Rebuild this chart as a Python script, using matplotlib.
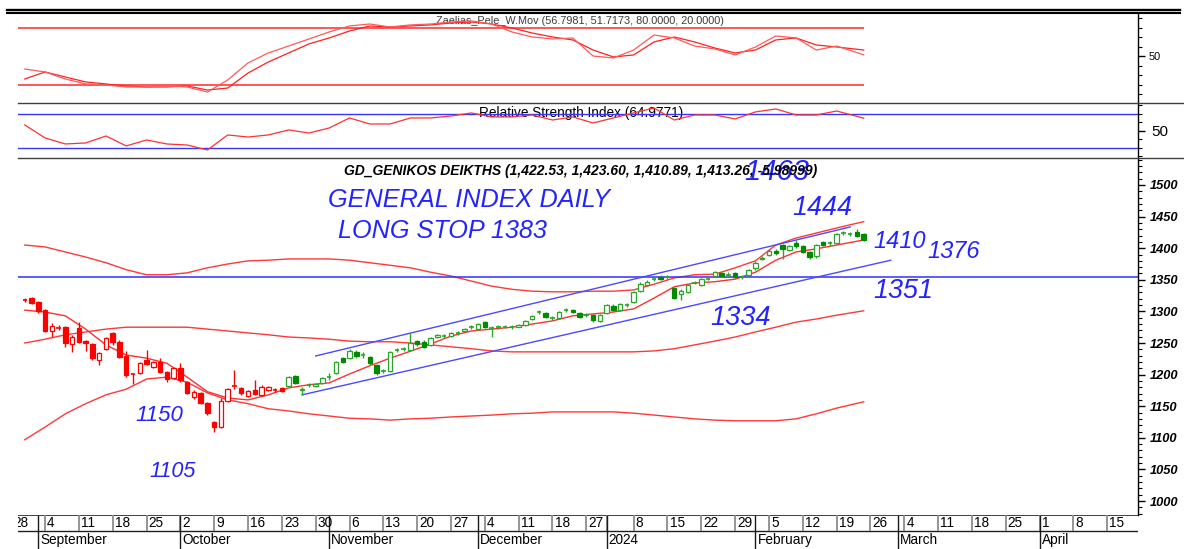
import matplotlib
matplotlib.use('Agg')
import matplotlib.pyplot as plt
from matplotlib.patches import Rectangle
from matplotlib.lines import Line2D
from matplotlib.ticker import FixedLocator, MultipleLocator
import numpy as np
import pandas as pd

plt.rcParams['font.family'] = ['Liberation Sans', 'DejaVu Sans']

# trading sessions (Athens); the empty future part keeps every weekday
holidays = pd.to_datetime(['2023-12-25', '2023-12-26', '2024-01-01'])
days = pd.bdate_range('2023-08-28', '2024-04-26')
days = days[~days.isin(holidays)]

first_day = '2023-08-30'
last_red = '2023-10-23'

opens = [1317, 1321, 1315, 1302, 1269, 1274, 1275, 1248, 1274, 1253,
         1248, 1223, 1241, 1266, 1252, 1229, 1200, 1203, 1223, 1212,
         1220, 1204, 1195, 1210, 1188, 1165, 1171, 1155, 1125, 1117,
         1158, 1182, 1179, 1166, 1176, 1168, 1175, 1176, 1179, 1182,
         1198, 1176, 1183, 1182, 1187, 1196, 1203, 1226, 1226, 1236,
         1231, 1228, 1215, 1205, 1206, 1239, 1240, 1239, 1253, 1252,
         1247, 1260, 1261, 1261, 1266, 1269, 1275, 1272, 1283, 1274,
         1275, 1276, 1275, 1276, 1279, 1288, 1299, 1297, 1290, 1290,
         1301, 1302, 1297, 1294, 1294, 1285, 1298, 1309, 1303, 1310,
         1315, 1333, 1342, 1350, 1355, 1354, 1337, 1328, 1331, 1345,
         1342, 1352, 1356, 1361, 1358, 1360, 1354, 1358, 1368, 1383,
         1389, 1396, 1405, 1397, 1409, 1403, 1394, 1387, 1410, 1407,
         1408, 1424, 1422, 1426, 1422.53]
highs = [1321, 1323, 1316, 1304, 1282, 1279, 1277, 1262, 1283, 1255,
         1250, 1236, 1260, 1268, 1254, 1237, 1203, 1220, 1239, 1222,
         1226, 1206, 1212, 1218, 1190, 1175, 1173, 1157, 1127, 1163,
         1179, 1207, 1181, 1176, 1192, 1184, 1182, 1179, 1181, 1198,
         1200, 1180, 1187, 1187, 1197, 1203, 1222, 1228, 1240, 1239,
         1235, 1230, 1217, 1209, 1238, 1242, 1244, 1266, 1255, 1254,
         1260, 1265, 1265, 1268, 1269, 1274, 1278, 1282, 1285, 1277,
         1279, 1279, 1278, 1280, 1287, 1295, 1303, 1299, 1293, 1301,
         1305, 1304, 1299, 1297, 1296, 1296, 1312, 1311, 1314, 1313,
         1333, 1346, 1349, 1354, 1357, 1357, 1339, 1335, 1344, 1348,
         1353, 1355, 1364, 1363, 1362, 1362, 1357, 1367, 1379, 1387,
         1398, 1398, 1407, 1405, 1413, 1405, 1396, 1407, 1412, 1411,
         1424, 1427, 1425, 1431, 1423.60]
lows = [1315, 1312, 1298, 1267, 1260, 1271, 1244, 1236, 1250, 1237,
        1223, 1215, 1239, 1247, 1226, 1196, 1185, 1201, 1215, 1210,
        1202, 1188, 1193, 1189, 1169, 1162, 1153, 1136, 1109, 1115,
        1156, 1178, 1168, 1164, 1167, 1166, 1174, 1173, 1172, 1180,
        1185, 1167, 1180, 1180, 1185, 1192, 1201, 1218, 1224, 1227,
        1227, 1216, 1200, 1202, 1204, 1236, 1238, 1237, 1246, 1242,
        1245, 1258, 1258, 1259, 1263, 1267, 1272, 1270, 1273, 1260,
        1272, 1273, 1272, 1275, 1277, 1286, 1296, 1289, 1287, 1288,
        1299, 1297, 1289, 1291, 1284, 1283, 1296, 1300, 1301, 1307,
        1313, 1331, 1340, 1348, 1349, 1351, 1319, 1318, 1329, 1343,
        1340, 1349, 1354, 1354, 1355, 1353, 1351, 1356, 1366, 1381,
        1387, 1390, 1383, 1395, 1401, 1392, 1383, 1384, 1403, 1404,
        1406, 1421, 1420, 1417, 1410.89]
closes = [1318, 1313, 1301, 1269, 1277, 1275, 1250, 1260, 1252, 1250,
          1226, 1234, 1258, 1252, 1228, 1199, 1201, 1218, 1217, 1220,
          1204, 1193, 1210, 1191, 1171, 1172, 1155, 1139, 1117, 1158,
          1177, 1181, 1171, 1174, 1169, 1180, 1180, 1176, 1174, 1196,
          1187, 1178, 1184, 1185, 1195, 1197, 1220, 1220, 1237, 1229,
          1231, 1218, 1203, 1206, 1236, 1239, 1241, 1250, 1248, 1244,
          1258, 1263, 1262, 1266, 1266, 1272, 1275, 1280, 1275, 1274,
          1276, 1275, 1276, 1278, 1285, 1293, 1299, 1291, 1290, 1299,
          1302, 1299, 1291, 1294, 1286, 1294, 1310, 1302, 1312, 1311,
          1331, 1344, 1347, 1351, 1351, 1354, 1321, 1333, 1342, 1346,
          1351, 1352, 1362, 1356, 1358, 1355, 1354, 1365, 1377, 1385,
          1396, 1392, 1398, 1403, 1403, 1394, 1386, 1405, 1405, 1408,
          1422, 1424, 1423, 1419.25, 1413.26]

# indicators, read every third session plus the last one
stoch_k = [36.8, 33.7, 26.3, 21.1, 20.0, 17.9, 17.9, 19.0, 17.9, 12.6, 25.3, 43.2, 53.7, 61.0,
           68.4, 75.8, 82.1, 84.2, 81.0, 83.2, 84.2, 86.3, 87.4, 84.2, 75.8, 70.5, 68.4, 69.5,
           50.5, 48.4, 56.8, 72.6, 69.5, 61.0, 57.9, 51.6, 60.0, 71.6, 69.5, 56.8, 61.0, 51.7]
stoch_d = [26.3, 33.7, 28.4, 23.2, 21.1, 19.0, 17.9, 17.9, 19.0, 14.7, 16.8, 32.6, 44.2, 53.7,
           63.2, 69.5, 76.8, 82.1, 81.0, 82.1, 83.2, 85.3, 86.3, 84.2, 80.0, 74.7, 70.5, 67.4,
           56.8, 49.5, 51.6, 65.3, 70.5, 65.3, 58.9, 53.7, 56.8, 67.4, 69.5, 62.1, 60.0, 56.8]
rsi = [57.1, 41.8, 34.7, 35.9, 44.1, 32.4, 39.4, 34.7, 33.5, 27.6, 45.3, 42.9, 45.3, 51.2,
       47.6, 53.5, 65.3, 58.2, 58.2, 65.3, 65.3, 67.6, 71.2, 66.5, 66.5, 68.8, 62.9, 66.5,
       59.4, 65.3, 71.2, 77.1, 62.9, 68.8, 68.8, 64.1, 72.4, 75.9, 68.8, 68.8, 73.5, 65.0]
upper_band = [1405, 1402, 1394, 1386, 1377, 1366, 1358, 1358, 1361, 1369, 1375, 1380, 1381, 1383,
              1383, 1383, 1381, 1377, 1373, 1369, 1362, 1356, 1348, 1340, 1335, 1332, 1331, 1331,
              1332, 1332, 1334, 1343, 1353, 1358, 1359, 1369, 1380, 1405, 1416, 1424, 1432, 1442]
mid_band = [1250, 1256, 1263, 1267.5, 1272, 1275, 1275, 1275, 1275, 1272, 1269, 1266, 1263, 1259.5,
            1258, 1256, 1253, 1252, 1252, 1250, 1247, 1244, 1241, 1237.5, 1236, 1236, 1236, 1236,
            1236, 1236, 1236, 1237.5, 1241, 1247, 1253, 1259.5, 1267.5, 1275, 1283, 1288, 1294, 1301]
lower_band = [1097, 1117, 1138, 1154, 1168, 1177, 1193, 1196, 1188, 1171, 1160, 1154, 1146, 1142.5,
              1138, 1134.5, 1131, 1130, 1128, 1130, 1131, 1133, 1134.5, 1136, 1138, 1139, 1141, 1141,
              1141, 1141, 1139, 1136, 1133, 1130, 1128, 1127, 1127, 1127, 1130, 1138, 1147, 1157]
short_ma = [1302, 1299, 1293, 1272, 1247, 1231, 1226, 1218, 1196, 1173, 1163, 1160, 1168, 1179,
            1184, 1187, 1201, 1214, 1226, 1237, 1248.5, 1261, 1269, 1272, 1275, 1280, 1285, 1293,
            1296, 1299, 1304, 1321, 1339, 1345, 1347, 1351, 1362, 1381, 1394, 1399, 1405, 1413]

chan_top = (['2023-10-30', '2024-02-21'], [1229.5, 1433.6])
chan_bot = (['2023-10-26', '2024-02-29'], [1168, 1381])
support = 1354

notes = [('1463', '2024-01-30', 1520, 21), ('1444', '2024-02-08', 1463, 19.4),
         ('1410', '2024-02-26', 1411, 17), ('1376', '2024-03-07', 1395, 17),
         ('1351', '2024-02-26', 1332, 19.4), ('1334', '2024-01-23', 1289, 19.6),
         ('1150', '2023-09-21', 1136, 16), ('1105', '2023-09-25', 1046, 15.6)]

n = len(closes)
ix = lambda d: days.get_loc(pd.Timestamp(d))
i0 = ix(first_day)
xc = np.arange(i0, i0 + n)
red_end = ix(last_red)
samp = np.r_[np.arange(0, n - 4, 3), n - 1]
xs = xc[samp]

W, H = 1184, 549
fig = plt.figure(figsize=(W / 100, H / 100), dpi=100)
L, R = 18, 1137.7


def box(top, bot):
    return [L / W, 1 - bot / H, (R - L) / W, (bot - top) / H]


ax1 = fig.add_axes(box(14, 103))
ax2 = fig.add_axes(box(103, 158))
ax3 = fig.add_axes(box(158, 514.5))
ax4 = fig.add_axes(box(514.5, 549))
view = (1.0, 166.5)
for ax in (ax1, ax2, ax3, ax4):
    ax.set_xlim(*view)
    for s in ('top', 'left', 'bottom'):
        ax.spines[s].set_visible(False)
    ax.spines['right'].set_linewidth(1)
    ax.yaxis.tick_right()
    ax.tick_params(axis='x', bottom=False, labelbottom=False)
    ax.tick_params(axis='y', which='major', length=5, width=1)
    ax.tick_params(axis='y', which='minor', length=3, width=0.8)
ax4.axis('off')

# stochastic-like panel
ax1.set_ylim(1.05, 94.7)
ax1.hlines([80, 20], view[0], xc[-1], color='#ff3b3b', lw=1.2)
ax1.plot(xs, stoch_d, color='#ff2020', lw=0.9)
ax1.plot(xs, stoch_k, color='#ff5a5a', lw=0.9)
ax1.set_yticks([50])
ax1.yaxis.set_minor_locator(FixedLocator(range(10, 91, 10)))
ax1.tick_params(axis='y', labelsize=7.8, pad=3)
ax1.text(0.502, 0.921, 'Zaelias_Pele_W.Mov (56.7981, 51.7173, 80.0000, 20.0000)',
         transform=ax1.transAxes, ha='center', va='center', fontsize=7.8,
         color='#3a3a3a', zorder=1)

# RSI panel
ax2.set_ylim(18.2, 82.9)
ax2.axhline(70, color='#3535ff', lw=1)
ax2.axhline(30, color='#3535ff', lw=1)
ax2.plot(xs, rsi, color='#ff3030', lw=0.9)
ax2.set_yticks([50])
ax2.yaxis.set_minor_locator(FixedLocator(range(20, 81, 10)))
ax2.tick_params(axis='y', labelsize=11, pad=5)
ax2.text(0.503, 0.827, 'Relative Strength Index (64.9771)', transform=ax2.transAxes,
         ha='center', va='center', fontsize=9.8, color='black', zorder=1)

# price panel
ax3.set_ylim(978.7, 1542.7)
for band in (upper_band, mid_band, lower_band):
    ax3.plot(xs, band, color='#ff3838', lw=1, zorder=2)
ax3.plot(xs, short_ma, color='#ff3030', lw=1, zorder=2)
ax3.axhline(support, color='#3030ff', lw=1.1, zorder=2)
for dd, vv in (chan_top, chan_bot):
    ax3.plot([ix(d) for d in dd], vv, color='#4a4aff', lw=1, zorder=2)

w = 0.66
for k in range(n):
    x = xc[k]
    o, h, l, c = opens[k], highs[k], lows[k], closes[k]
    early = xc[k] <= red_end
    col = '#ff0000' if early else '#008a00'
    edge = '#ff0000' if early else '#2aa52a'
    ax3.vlines(x, l, h, color=edge, lw=1, zorder=3)
    lo, hi = min(o, c), max(o, c)
    if hi - lo < 1.5:
        ax3.hlines((o + c) / 2, x - w / 2, x + w / 2, color=edge, lw=1.2, zorder=4)
    elif c > o:
        ax3.add_patch(Rectangle((x - w / 2, lo), w, hi - lo, facecolor='white',
                                edgecolor=edge, lw=0.9, zorder=4))
    else:
        ax3.add_patch(Rectangle((x - w / 2, lo), w, hi - lo, facecolor=col,
                                edgecolor=col, lw=0.9, zorder=4))

ax3.set_yticks(range(1000, 1501, 50))
ax3.yaxis.set_minor_locator(MultipleLocator(10))
ax3.tick_params(axis='y', labelsize=9.3, pad=4)
for t in ax3.get_yticklabels():
    t.set_fontweight('bold')
    t.set_fontstyle('italic')

ax3.text(0.5025, 0.9635, 'GD_GENIKOS DEIKTHS (1,422.53, 1,423.60, 1,410.89, 1,413.26, -5.98999)',
         transform=ax3.transAxes, ha='center', va='center', fontsize=10,
         fontweight='bold', fontstyle='italic', zorder=5)

blue = '#2323ff'
ax3.text(46.8, 1476, 'GENERAL INDEX DAILY', color=blue, fontsize=18.2, fontstyle='italic',
         ha='left', va='center', zorder=6)
ax3.text(48.3, 1427, 'LONG STOP 1383', color=blue, fontsize=18.2, fontstyle='italic',
         ha='left', va='center', zorder=6)
for s, d, v, fs in notes:
    ax3.text(ix(d) + 0.4, v, s, color=blue, fontsize=fs, fontstyle='italic',
             ha='left', va='center', zorder=4.5, clip_on=False)

# date axis: weeks on the first row, months on the second
split = 18 / 34.5
sr = pd.Series(days, index=days)
week_first = sr.groupby(days.to_period('W')).first()
month_first = sr.groupby(days.to_period('M')).first()
month_first = month_first[month_first.dt.day < 8]
no_label = [pd.Timestamp('2024-01-02')]
ax4.set_ylim(0, 1)
ax4.axhline(1, color='#202020', lw=1.2)
ax4.axhline(split, color='#202020', lw=1)
for d in week_first:
    x = ix(d)
    ax4.vlines(x, split, 1, color='#8c8c8c', lw=1.3)
    if d not in no_label:
        ax4.text(x + 0.3, 0.765, str(d.day), fontsize=9.8, ha='left', va='center',
                 clip_on=True)
for d in month_first:
    x = ix(d)
    ax4.vlines(x, 0, 1, color='#1a1a1a', lw=1)
    name = str(d.year) if d.month == 1 else d.strftime('%B')
    ax4.text(x + 0.3, 0.25, name, fontsize=9.8, ha='left', va='center', clip_on=True)

# frame lines
for y, lw in ((9.6, 1.7), (12.9, 1.5)):
    fig.add_artist(Line2D([7 / W, 1180 / W], [1 - y / H] * 2, color='black', lw=lw))
for y in (103, 158):
    fig.add_artist(Line2D([L / W, 1], [1 - y / H] * 2, color='#404040', lw=1))

fig.savefig('out.png', dpi=100)
